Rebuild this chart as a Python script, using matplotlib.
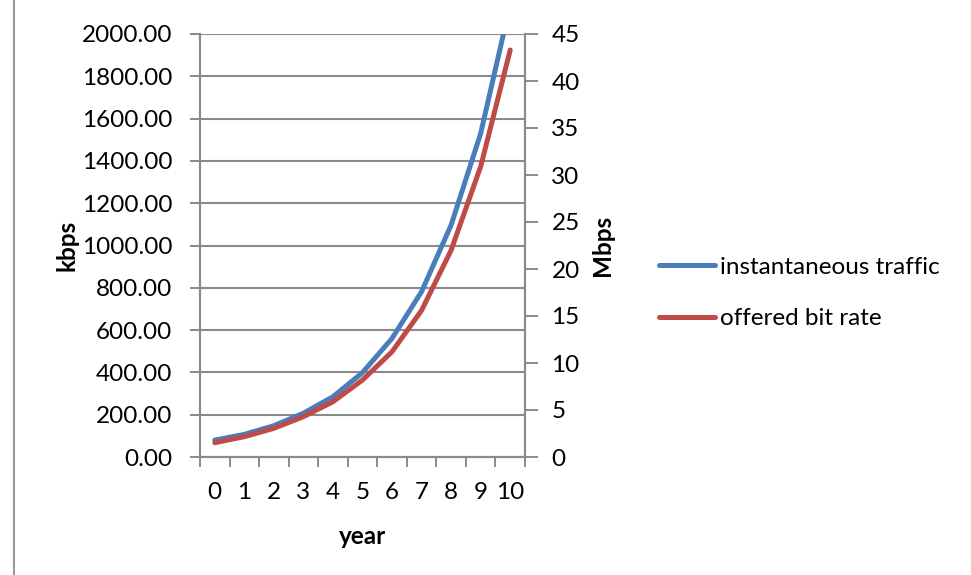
import matplotlib
matplotlib.use("Agg")
import matplotlib.pyplot as plt
from matplotlib.lines import Line2D

plt.rcParams['font.family'] = ['Lato', 'DejaVu Sans']

# yearly growth of traffic
years = list(range(11))
traffic_kbps = [80, 107, 148, 207, 285, 399, 561, 782, 1097, 1530, 2140]
bitrate_mbps = [1.52, 2.16, 3.05, 4.29, 5.88, 8.19, 11.2, 15.6, 22.0, 30.9, 43.3]

blue = '#4A7EBB'
red = '#BE4B48'
grid_c = '#8A8A8A'
fs = 17.5

fig = plt.figure(figsize=(9.71, 5.75), dpi=100)
ax = fig.add_axes([200/971, 1 - 457/575, 325/971, 423/575])
ax2 = ax.twinx()

ax.plot(years, traffic_kbps, color=blue, lw=3.6, solid_capstyle='round',
        label='instantaneous traffic')
ax2.plot(years, bitrate_mbps, color=red, lw=3.6, solid_capstyle='round',
         label='offered bit rate')

ax.set_xlim(-0.5, 10.5)
ax.set_ylim(0, 2000)
ax2.set_ylim(0, 45)

ax.set_yticks(range(0, 2001, 200))
ax.set_yticklabels([f'{v:.2f}' for v in range(0, 2001, 200)])
ax2.set_yticks(range(0, 46, 5))

# category labels in the middle, tick marks between categories
ax.set_xticks(years)
ax.set_xticklabels([str(y) for y in years])
ax.set_xticks([y - 0.5 for y in years] + [10.5], minor=True)
ax.tick_params(axis='x', which='major', length=0, pad=18, labelsize=fs)
ax.tick_params(axis='x', which='minor', length=7, width=1.4, color=grid_c)
ax.tick_params(axis='y', length=7, width=1.4, color=grid_c, labelsize=fs, pad=13)
ax2.tick_params(axis='y', length=9, width=1.4, color=grid_c, labelsize=fs, pad=10)

ax.grid(axis='y', color=grid_c, lw=1.5)
ax.set_axisbelow(True)
for a in (ax, ax2):
    for s in a.spines.values():
        s.set_color(grid_c)
        s.set_linewidth(1.5)
    a.spines['top'].set_visible(False)

ax.set_xlabel('year', fontsize=fs, fontweight='bold', labelpad=16)
ax.set_ylabel('kbps', fontsize=fs, fontweight='bold', labelpad=2)
ax2.set_ylabel('Mbps', fontsize=fs, fontweight='bold', labelpad=8)

handles = ax.get_lines()[:1] + ax2.get_lines()[:1]
fig.legend(handles, [h.get_label() for h in handles], loc='center left',
           bbox_to_anchor=(659/971, 1 - 293/575), frameon=False, fontsize=fs,
           handlelength=2.3, handletextpad=0.2, labelspacing=1.25,
           borderpad=0, borderaxespad=0)

# outer chart border on the left
fig.add_artist(Line2D([14/971, 14/971], [0, 1], color='#9A9A9A', lw=1.5))

fig.savefig('out.png', dpi=100)
